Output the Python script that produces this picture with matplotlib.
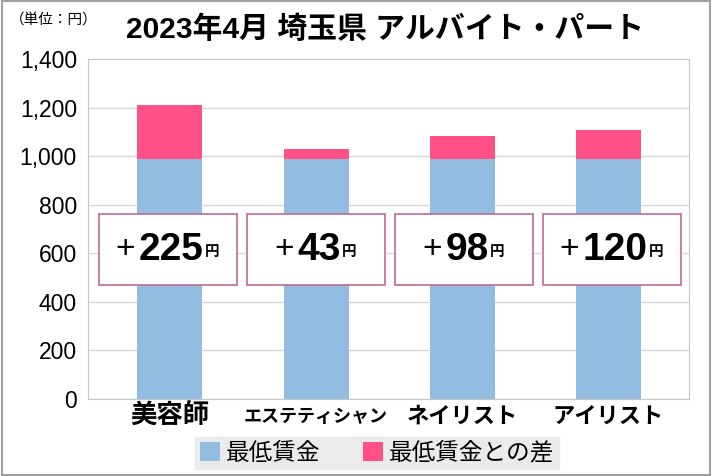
import matplotlib
matplotlib.use('Agg')
import matplotlib.pyplot as plt
from matplotlib.patches import Rectangle

plt.rcParams['font.family'] = ['Liberation Sans', 'Noto Sans CJK JP', 'DejaVu Sans']

jobs = ['美容師', 'エステティシャン', 'ネイリスト', 'アイリスト']
label_sizes = [19, 13, 16, 16]
min_wage = [987, 987, 987, 987]
diff = [225, 43, 98, 120]
diff_labels = ['225', '43', '98', '120']
yticks = [0, 200, 400, 600, 800, 1000, 1200, 1400]
ytick_labels = ['0', '200', '400', '600', '800', '1,000', '1,200', '1,400']

blue = '#92bde0'
pink = '#ff5088'

fig = plt.figure(figsize=(7.12, 4.76), dpi=100)
ax = fig.add_axes([88 / 712, 77 / 476, 601 / 712, 340 / 476])

x = range(len(jobs))
ax.bar(x, min_wage, width=0.445, color=blue, label='最低賃金', zorder=2)
ax.bar(x, diff, width=0.445, bottom=min_wage, color=pink, label='最低賃金との差', zorder=2)

ax.set_ylim(0, 1400)
ax.set_xlim(-0.56, 3.55)
ax.set_yticks(yticks)
ax.set_yticklabels(ytick_labels, fontsize=16.5)
ax.set_xticks(list(x))
ax.set_xticklabels([])
ax.tick_params(length=0, pad=8)
ax.grid(axis='y', color='#d9d9d9', linewidth=1, zorder=0)
for s in ax.spines.values():
    s.set_color('#c8c8c8')

for i, (job, fs) in enumerate(zip(jobs, label_sizes)):
    ax.text(i, -0.05, job, transform=ax.get_xaxis_transform(), ha='center', va='center',
            fontsize=fs, fontweight='bold', family=['Noto Sans CJK JP'])

# value boxes
for i, lab in enumerate(diff_labels):
    bx = (99 - 88 + 148 * i) / 601
    ax.add_patch(Rectangle((bx, 0.335), 138 / 601, 71 / 340, transform=ax.transAxes,
                           facecolor='white', edgecolor='#c06a96', linewidth=1.2, zorder=3))
    cx = bx + 138 / 601 / 2 + 3 / 601
    t = ax.text(cx, 0.335 + 71 / 340 / 2, lab, transform=ax.transAxes, ha='center',
                va='center', fontsize=28, fontweight='bold', zorder=4)
    ax.annotate('+', xy=(0, 0.5), xycoords=t, xytext=(-2.5, 0), textcoords='offset points',
                ha='right', va='center', fontsize=24, zorder=4)
    ax.annotate('円', xy=(1, 0), xycoords=t, xytext=(1, 6), textcoords='offset points',
                ha='left', va='bottom', fontsize=10.5, fontweight='bold',
                family=['Noto Sans CJK JP'], zorder=4)

fig.text(385 / 712, 1 - 30 / 476, '2023年4月 埼玉県 アルバイト・パート', ha='center',
         va='center', fontsize=21.5, fontweight='bold')
fig.text(10 / 712, 1 - 20 / 476, '（単位：円）', ha='left', va='center', fontsize=10.5,
         family=['Noto Sans CJK JP'])

leg = fig.legend(loc='center', bbox_to_anchor=(377 / 712, 1 - 453 / 476), ncol=2,
                 frameon=True, fancybox=False, handlelength=0.85,
                 handleheight=0.85, handletextpad=0.25, columnspacing=1.8,
                 borderpad=0.2, borderaxespad=0,
                 prop={'family': ['Noto Sans CJK JP'], 'size': 17})
leg.get_frame().set_facecolor('#e6e6e6')
leg.get_frame().set_edgecolor('#e6e6e6')

fig.patches.append(Rectangle((0.003, 0.003), 0.994, 0.994, transform=fig.transFigure,
                             fill=False, edgecolor='#a0a0a0', linewidth=1.5))

fig.savefig('out.png', dpi=100)
